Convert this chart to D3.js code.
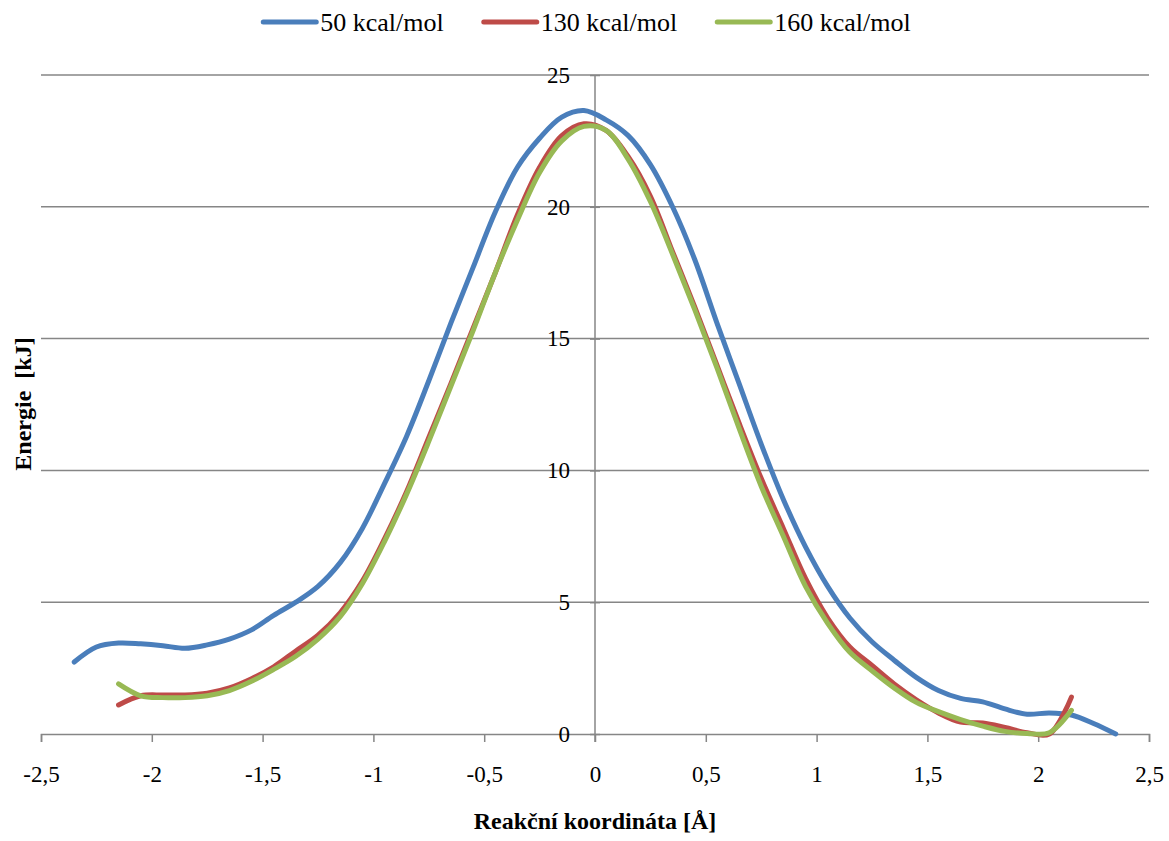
<!DOCTYPE html>
<html>
<head>
<meta charset="utf-8">
<script src="https://cdn.jsdelivr.net/npm/d3@7"></script>
<style>
  html, body { margin: 0; padding: 0; background: #fff; }
  svg { display: block; }
  svg text { font-family: "Liberation Serif", "DejaVu Serif", "Tinos", "Noto Serif", serif; }
</style>
</head>
<body>
<svg id="chart" width="1169" height="841"></svg>
<script>
// reaction coordinate [Å] and energy [kJ]
const coordBlue = [-2.35, -2.25, -2.15, -2.05, -1.95, -1.85, -1.75, -1.65, -1.55, -1.45, -1.35, -1.25,
  -1.15, -1.05, -0.95, -0.85, -0.75, -0.65, -0.55, -0.45, -0.35, -0.25, -0.15, -0.05,
  0.05, 0.15, 0.25, 0.35, 0.45, 0.55, 0.65, 0.75, 0.85, 0.95, 1.05, 1.15,
  1.25, 1.35, 1.45, 1.55, 1.65, 1.75, 1.85, 1.95, 2.05, 2.15, 2.25, 2.35];
const energy50 = [2.73, 3.3, 3.45, 3.42, 3.35, 3.25, 3.38, 3.6, 3.95, 4.5, 5.0, 5.6,
  6.5, 7.8, 9.5, 11.3, 13.4, 15.6, 17.7, 19.8, 21.5, 22.6, 23.4, 23.65,
  23.3, 22.7, 21.6, 20.0, 18.0, 15.6, 13.3, 11.0, 8.9, 7.1, 5.6, 4.4,
  3.5, 2.8, 2.15, 1.65, 1.35, 1.22, 0.95, 0.75, 0.8, 0.72, 0.4, 0];

const coordRG = [-2.15, -2.05, -1.95, -1.85, -1.75, -1.65, -1.55, -1.45, -1.35, -1.25,
  -1.15, -1.05, -0.95, -0.85, -0.75, -0.65, -0.55, -0.45, -0.35, -0.25, -0.15, -0.05,
  0.05, 0.15, 0.25, 0.35, 0.45, 0.55, 0.65, 0.75, 0.85, 0.95, 1.05, 1.15,
  1.25, 1.35, 1.45, 1.55, 1.65, 1.75, 1.85, 1.95, 2.05, 2.15];
const energy130 = [1.1, 1.45, 1.48, 1.48, 1.55, 1.75, 2.1, 2.55, 3.15, 3.75,
  4.6, 5.8, 7.4, 9.2, 11.25, 13.3, 15.4, 17.5, 19.7, 21.5, 22.7, 23.15,
  22.9, 21.9, 20.4, 18.3, 16.2, 14.0, 11.8, 9.7, 7.8, 5.9, 4.4, 3.3,
  2.6, 1.9, 1.3, 0.8, 0.45, 0.42, 0.25, 0.05, 0.0, 1.4];
const energy160 = [1.9, 1.45, 1.38, 1.38, 1.45, 1.65, 2.0, 2.45, 2.95, 3.6,
  4.45, 5.7, 7.3, 9.1, 11.1, 13.2, 15.3, 17.5, 19.5, 21.3, 22.5, 23.05,
  22.9, 21.8, 20.2, 18.2, 16.1, 13.9, 11.6, 9.4, 7.5, 5.6, 4.2, 3.1,
  2.4, 1.75, 1.2, 0.85, 0.55, 0.3, 0.1, 0.02, 0.05, 0.9];

const seriesNames = ['50 kcal/mol', '130 kcal/mol', '160 kcal/mol'];
const seriesColors = ['#4A7EBB', '#BE4B48', '#98B954'];
const xTicks = [-2.5, -2, -1.5, -1, -0.5, 0, 0.5, 1, 1.5, 2, 2.5];
const yTicks = [0, 5, 10, 15, 20, 25];

const series = [
  { name: seriesNames[0], color: seriesColors[0], pts: coordBlue.map((c, i) => [c, energy50[i]]) },
  { name: seriesNames[1], color: seriesColors[1], pts: coordRG.map((c, i) => [c, energy130[i]]) },
  { name: seriesNames[2], color: seriesColors[2], pts: coordRG.map((c, i) => [c, energy160[i]]) }
];

const serif = '"Liberation Serif", "DejaVu Serif", "Tinos", "Noto Serif", serif';
const svg = d3.select('#chart');
const plotLeft = 41, plotRight = 1149, plotTop = 75, plotBottom = 734;
const gridColor = '#868686';

const x = d3.scaleLinear().domain([-2.5, 2.5]).range([plotLeft, plotRight]);
const y = d3.scaleLinear().domain([0, 25]).range([plotBottom, plotTop]);
const fmt = d => String(d).replace('.', ',');

svg.append('rect').attr('width', 1169).attr('height', 841).attr('fill', '#fff');

// horizontal gridlines
svg.append('g')
  .selectAll('line')
  .data(yTicks.filter(t => t > 0))
  .join('line')
  .attr('x1', plotLeft).attr('x2', plotRight)
  .attr('y1', d => y(d)).attr('y2', d => y(d))
  .attr('stroke', gridColor).attr('stroke-width', 1.5);

// x axis (bottom) with outward ticks
const xAxis = svg.append('g')
  .attr('transform', `translate(0, ${plotBottom})`)
  .call(d3.axisBottom(x).tickValues(xTicks).tickSize(8).tickPadding(24).tickFormat(fmt))
  .attr('font-family', serif);
xAxis.select('.domain').attr('stroke', gridColor).attr('stroke-width', 1.5);
xAxis.selectAll('.tick line').attr('stroke', gridColor).attr('stroke-width', 1.5);
xAxis.selectAll('.tick text')
  .attr('fill', '#000')
  .style('font-size', '23px');

// y axis at x = 0
const yAxis = svg.append('g')
  .attr('transform', `translate(${x(0)}, 0)`)
  .call(d3.axisLeft(y).tickValues(yTicks).tickSize(5).tickPadding(20).tickFormat(fmt))
  .attr('font-family', serif);
yAxis.select('.domain').remove();
yAxis.append('line')
  .attr('y1', plotTop).attr('y2', plotBottom + 8)
  .attr('stroke', gridColor).attr('stroke-width', 1.5);
yAxis.selectAll('.tick line').attr('stroke', gridColor).attr('stroke-width', 1.5).attr('x2', 5).attr('x1', -5);
yAxis.selectAll('.tick text')
  .attr('fill', '#000')
  .style('font-size', '23px');

// curves
const line = d3.line()
  .x(d => x(d[0]))
  .y(d => y(d[1]))
  .curve(d3.curveCatmullRom.alpha(0.5));

svg.append('g')
  .selectAll('path')
  .data(series)
  .join('path')
  .attr('d', d => line(d.pts))
  .attr('fill', 'none')
  .attr('stroke', d => d.color)
  .attr('stroke-width', 5)
  .attr('stroke-linecap', 'round')
  .attr('stroke-linejoin', 'round');

// axis titles
svg.append('text')
  .attr('x', x(0))
  .attr('y', 829)
  .attr('text-anchor', 'middle')
  .attr('font-size', 24)
  .attr('font-weight', 'bold')
  .text('Reakční koordináta [Å]');

svg.append('text')
  .attr('transform', 'translate(31, 404) rotate(-90)')
  .attr('text-anchor', 'middle')
  .attr('font-size', 24)
  .attr('font-weight', 'bold')
  .style('white-space', 'pre')
  .text('Energie  [kJ]');

// legend
const legend = svg.append('g');
const lineLen = 53, lineGap = 4, itemGap = 40, legendY = 22;
let cursor = 0;
series.forEach(s => {
  const g = legend.append('g').attr('transform', `translate(${cursor}, 0)`);
  g.append('line')
    .attr('x1', 0).attr('x2', lineLen)
    .attr('y1', legendY).attr('y2', legendY)
    .attr('stroke', s.color).attr('stroke-width', 5).attr('stroke-linecap', 'round');
  const t = g.append('text')
    .attr('x', lineLen + lineGap)
    .attr('y', legendY + 9)
    .attr('font-size', 26)
    .text(s.name);
  cursor += lineLen + lineGap + t.node().getComputedTextLength() + itemGap;
});
const legendWidth = cursor - itemGap;
legend.attr('transform', `translate(${587 - legendWidth / 2}, 0)`);
</script>
</body>
</html>
